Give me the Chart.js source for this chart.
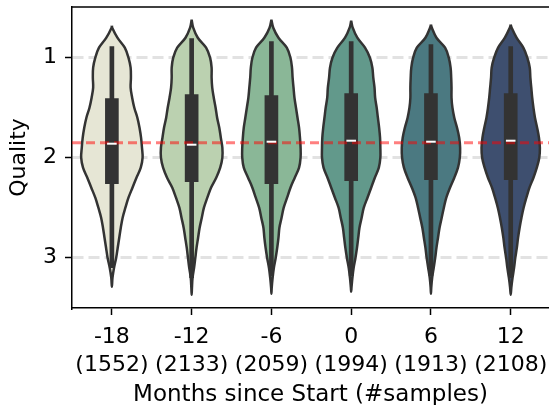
<!DOCTYPE html>
<html>
<head>
<meta charset="utf-8">
<script src="https://cdn.jsdelivr.net/npm/chart.js@4.4.1/dist/chart.umd.min.js"></script>
<style>
  html, body { margin: 0; padding: 0; background: #fff; }
</style>
</head>
<body>
<canvas id="chart" width="549" height="405"></canvas>
<script>
// categories and sample counts
const months = ['-18', '-12', '-6', '0', '6', '12'];
const sampleCounts = [1552, 2133, 2059, 1994, 1913, 2108];
const yTicks = [1, 2, 3];

// violin outlines: relative density (0..1) at each quality level
const qualityGrid = [0.7, 0.8, 0.9, 1.0, 1.1, 1.2, 1.3, 1.4, 1.5, 1.6, 1.7, 1.8, 1.9, 2.0,
                     2.1, 2.2, 2.3, 2.4, 2.5, 2.6, 2.7, 2.8, 2.9, 3.0, 3.1, 3.2, 3.3];
const densityM18 = [0.01, 0.18, 0.42, 0.54, 0.61, 0.62, 0.61, 0.66, 0.73, 0.83, 0.90, 0.95, 0.98, 1.00,
                    0.94, 0.80, 0.67, 0.54, 0.44, 0.35, 0.29, 0.24, 0.19, 0.14, 0.07, 0.02, 0];
const densityM12 = [0.05, 0.20, 0.47, 0.60, 0.65, 0.65, 0.67, 0.72, 0.78, 0.83, 0.90, 0.95, 1.00, 1.00,
                    0.93, 0.80, 0.63, 0.51, 0.40, 0.33, 0.26, 0.21, 0.16, 0.12, 0.08, 0.03, 0.01];
const densityM6 = [0.06, 0.23, 0.50, 0.62, 0.67, 0.69, 0.72, 0.75, 0.80, 0.85, 0.90, 0.93, 0.95, 0.95,
                   0.90, 0.76, 0.62, 0.51, 0.40, 0.33, 0.26, 0.23, 0.19, 0.14, 0.08, 0.04, 0.01];
const density0 = [0.05, 0.20, 0.45, 0.61, 0.69, 0.72, 0.76, 0.78, 0.83, 0.87, 0.91, 0.94, 0.95, 0.95,
                  0.90, 0.77, 0.65, 0.53, 0.41, 0.34, 0.27, 0.23, 0.19, 0.14, 0.08, 0.04, 0.01];
const density6 = [0.03, 0.18, 0.46, 0.58, 0.64, 0.66, 0.67, 0.67, 0.70, 0.76, 0.85, 0.92, 0.95, 0.94,
                  0.88, 0.76, 0.62, 0.50, 0.42, 0.35, 0.28, 0.23, 0.18, 0.14, 0.09, 0.04, 0.01];
const density12 = [0.03, 0.19, 0.41, 0.54, 0.62, 0.64, 0.67, 0.70, 0.74, 0.79, 0.86, 0.92, 0.95, 0.93,
                   0.85, 0.74, 0.61, 0.51, 0.42, 0.35, 0.29, 0.24, 0.20, 0.15, 0.11, 0.06, 0.02];
const tipTop = [0.68, 0.62, 0.62, 0.63, 0.67, 0.67];
const tipBottom = [3.29, 3.37, 3.36, 3.34, 3.36, 3.37];

// inner box stats
const boxQ1 = [1.41, 1.37, 1.38, 1.36, 1.36, 1.36];
const boxQ3 = [2.26, 2.24, 2.26, 2.23, 2.22, 2.22];
const medians = [1.86, 1.87, 1.84, 1.83, 1.84, 1.83];
const whiskerLow = [0.89, 0.81, 0.84, 0.84, 0.87, 0.89];
const whiskerHigh = [3.10, 3.20, 3.18, 3.18, 3.18, 3.20];
const overallMean = 1.85;

const densities = [densityM18, densityM12, densityM6, density0, density6, density12];
const violinColors = ['#e6e6d5', '#bbd1b0', '#8ab797', '#62998b', '#4b7981', '#3e4f6f'];
const VIOLIN_HALF = 0.385; // half width at max density, in category units
const X_MIN = -0.5, X_MAX = 5.48;

function violinPoints(i) {
  const d = densities[i];
  const inside = qualityGrid.map((q, k) => ({ q, w: d[k] }))
    .filter(p => p.q > tipTop[i] && p.q < tipBottom[i]);
  const right = inside.map(p => ({ x: i + p.w * VIOLIN_HALF, y: p.q }));
  const left = inside.slice().reverse().map(p => ({ x: i - p.w * VIOLIN_HALF, y: p.q }));
  return [{ x: i, y: tipTop[i] }, ...right, { x: i, y: tipBottom[i] }, ...left, { x: i, y: tipTop[i] }];
}

// fill the closed violin outline before its stroke is drawn
const violinFill = {
  id: 'violinFill',
  beforeDatasetDraw(chart, args) {
    const ds = chart.data.datasets[args.index];
    if (!ds.violinFill) return;
    const line = args.meta.dataset;
    const ctx = chart.ctx;
    line.updateControlPoints(chart.chartArea, 'x');
    ctx.save();
    ctx.beginPath();
    line.path(ctx);
    ctx.closePath();
    ctx.fillStyle = ds.violinFill;
    ctx.fill();
    ctx.restore();
  }
};

const topSpine = {
  id: 'topSpine',
  afterDraw(chart) {
    const { ctx, chartArea: a } = chart;
    ctx.save();
    ctx.strokeStyle = '#000';
    ctx.lineWidth = 1.5;
    ctx.beginPath();
    ctx.moveTo(a.left, a.top);
    ctx.lineTo(a.right, a.top);
    ctx.stroke();
    ctx.restore();
  }
};

Chart.defaults.font.family = 'DejaVu Sans';
Chart.defaults.font.size = 22;
Chart.defaults.color = '#000';

const datasets = [];
months.forEach((m, i) => {
  datasets.push({
    type: 'scatter',
    data: violinPoints(i),
    showLine: true,
    tension: 0.35,
    borderColor: '#333333',
    borderWidth: 2.5,
    pointRadius: 0,
    fill: false,
    violinFill: violinColors[i],
    order: 6
  });
});

datasets.push({
  type: 'bar',
  data: months.map((m, i) => ({ x: i, y: [whiskerLow[i], whiskerHigh[i]] })),
  backgroundColor: '#333333',
  barThickness: 4,
  grouped: false,
  order: 5
});
datasets.push({
  type: 'bar',
  data: months.map((m, i) => ({ x: i, y: [boxQ1[i], boxQ3[i]] })),
  backgroundColor: '#333333',
  barThickness: 13,
  grouped: false,
  order: 4
});
datasets.push({
  type: 'scatter',
  data: [{ x: X_MIN, y: overallMean }, { x: X_MAX, y: overallMean }],
  showLine: true,
  borderColor: 'rgba(255, 0, 0, 0.5)',
  borderWidth: 3,
  borderDash: [9, 5],
  pointRadius: 0,
  order: 3
});
datasets.push({
  type: 'scatter',
  data: months.map((m, i) => ({ x: i, y: medians[i] })),
  pointStyle: 'line',
  pointRadius: 4.8,
  borderColor: '#ffffff',
  backgroundColor: '#ffffff',
  borderWidth: 2,
  order: 2
});

new Chart(document.getElementById('chart'), {
  type: 'scatter',
  data: { datasets },
  plugins: [violinFill, topSpine],
  options: {
    responsive: false,
    animation: false,
    layout: { autoPadding: false, padding: { top: 7, right: 0, bottom: 0, left: 0 } },
    plugins: { legend: { display: false }, tooltip: { enabled: false } },
    scales: {
      x: {
        type: 'linear',
        offset: false,
        min: X_MIN,
        max: X_MAX,
        afterBuildTicks: s => { s.ticks = months.map((m, i) => ({ value: i })); },
        afterFit: s => { s.height = 97; s.paddingLeft = 0; s.paddingRight = 0; },
        ticks: {
          autoSkip: false,
          maxRotation: 0,
          padding: 9,
          font: { size: 22, lineHeight: 1.24 },
          callback: v => {
            const i = Math.round(v);
            return [months[i], '(' + sampleCounts[i] + ')'];
          }
        },
        grid: {
          offset: false,
          drawOnChartArea: false,
          drawTicks: true,
          tickLength: 7,
          tickWidth: 1.5,
          tickColor: '#000'
        },
        border: { color: '#000', width: 1.5 },
        title: {
          display: true,
          text: 'Months since Start (#samples)',
          font: { size: 23, lineHeight: 1 },
          padding: { top: 0, bottom: -2 }
        }
      },
      y: {
        type: 'linear',
        reverse: true,
        min: 0.493,
        max: 3.503,
        afterBuildTicks: s => { s.ticks = yTicks.map(v => ({ value: v })); },
        afterFit: s => { s.width = 72; s.paddingTop = 0; s.paddingBottom = 0; },
        ticks: { padding: 8, font: { size: 22 } },
        grid: {
          color: '#e2e2e2',
          lineWidth: 3,
          drawTicks: true,
          tickLength: 7,
          tickWidth: 1.5,
          tickColor: '#000',
          tickBorderDash: []
        },
        border: { color: '#000', width: 1.5, dash: [11, 5] },
        title: {
          display: true,
          text: 'Quality',
          font: { size: 22, lineHeight: 1 },
          padding: { top: 8.5, bottom: 0 }
        }
      }
    }
  }
});
</script>
</body>
</html>
